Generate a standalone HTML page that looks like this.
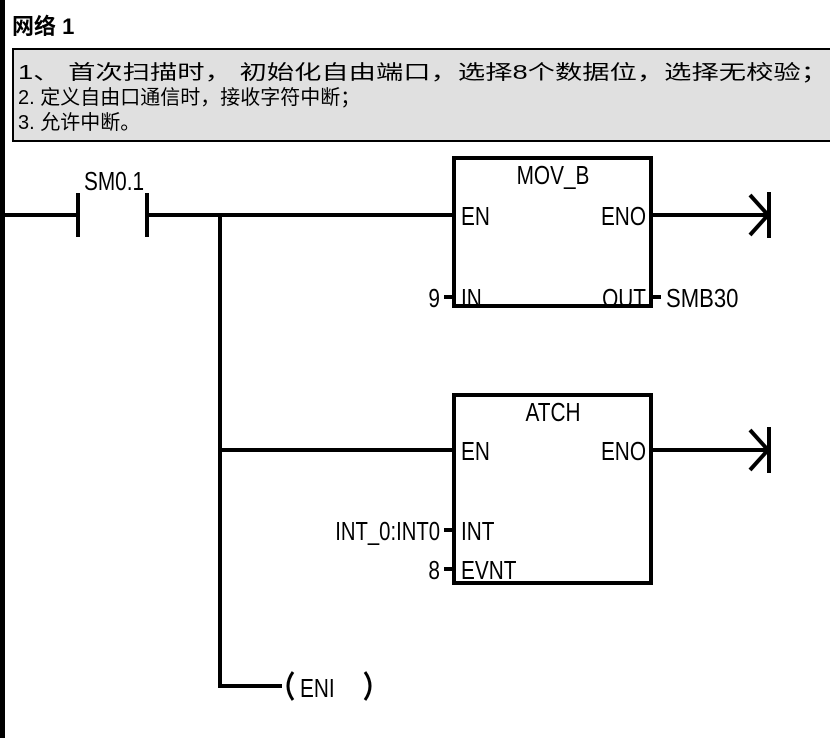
<!DOCTYPE html>
<html><head><meta charset="utf-8"><style>
html,body{margin:0;padding:0;background:#fff;width:830px;height:738px;overflow:hidden}
svg{display:block}
text{font-family:"Liberation Sans","Noto Sans CJK SC",sans-serif;fill:#000}
</style></head><body>
<svg width="830" height="738" viewBox="0 0 830 738" xmlns="http://www.w3.org/2000/svg">
<rect x="0" y="0" width="5" height="738" fill="#000"/>
<text x="12" y="34" font-size="22" font-weight="bold" font-family="'Noto Sans CJK SC',sans-serif">网络 1</text>
<rect x="13" y="49" width="820" height="92" fill="#e0e0e0" stroke="#000" stroke-width="2"/>
<g font-size="20" font-family="'Noto Sans CJK SC',sans-serif" fill="#111">
<text x="18" y="79" textLength="810" lengthAdjust="spacingAndGlyphs">1、 首次扫描时， 初始化自由端口，选择8个数据位，选择无校验；</text>
<text x="18" y="104">2. 定义自由口通信时，接收字符中断；</text>
<text x="18" y="129">3. 允许中断。</text>
</g>
<g stroke="#000" stroke-width="4" fill="none">
<line x1="4" y1="215" x2="78" y2="215"/>
<line x1="78" y1="193" x2="78" y2="237"/>
<line x1="147" y1="193" x2="147" y2="237"/>
<line x1="147" y1="215" x2="453" y2="215"/>
<line x1="220" y1="215" x2="220" y2="688"/>
<line x1="218" y1="686" x2="282" y2="686"/>
<line x1="220" y1="450" x2="453" y2="450"/>
<rect x="454" y="158" width="197" height="148"/>
<rect x="454" y="395" width="197" height="188"/>
<line x1="651" y1="215" x2="768" y2="215"/>
<line x1="651" y1="450" x2="768" y2="450"/>
<line x1="769" y1="192" x2="769" y2="238"/>
<line x1="769" y1="427" x2="769" y2="473"/>
<polyline points="750,195 768,215 750,235"/>
<polyline points="750,430 768,450 750,470"/>
<line x1="444" y1="297" x2="454" y2="297"/>
<line x1="651" y1="297" x2="661" y2="297"/>
<line x1="444" y1="530" x2="454" y2="530"/>
<line x1="444" y1="569" x2="454" y2="569"/>
<path d="M293 672 Q283 686 293 700" stroke-width="3"/>
<path d="M365 672 Q375 686 365 700" stroke-width="3"/>
</g>
<g font-size="26">
<text transform="translate(84 190) scale(0.8 1)">SM0.1</text>
<text transform="translate(553 184) scale(0.8 1)" text-anchor="middle">MOV_B</text>
<text transform="translate(461 225) scale(0.8 1)">EN</text>
<text transform="translate(646 225) scale(0.8 1)" text-anchor="end">ENO</text>
<text transform="translate(461 307) scale(0.8 1)">IN</text>
<text transform="translate(646 307) scale(0.8 1)" text-anchor="end">OUT</text>
<text transform="translate(440 307) scale(0.8 1)" text-anchor="end">9</text>
<text transform="translate(666 307) scale(0.85 1)">SMB30</text>
<text transform="translate(553 421) scale(0.8 1)" text-anchor="middle">ATCH</text>
<text transform="translate(461 460) scale(0.8 1)">EN</text>
<text transform="translate(646 460) scale(0.8 1)" text-anchor="end">ENO</text>
<text transform="translate(461 540) scale(0.8 1)">INT</text>
<text transform="translate(461 579) scale(0.8 1)">EVNT</text>
<text transform="translate(440 540) scale(0.78 1)" text-anchor="end">INT_0:INT0</text>
<text transform="translate(440 579) scale(0.8 1)" text-anchor="end">8</text>
<text transform="translate(300 697) scale(0.8 1)">ENI</text>
</g>
</svg>
</body></html>
